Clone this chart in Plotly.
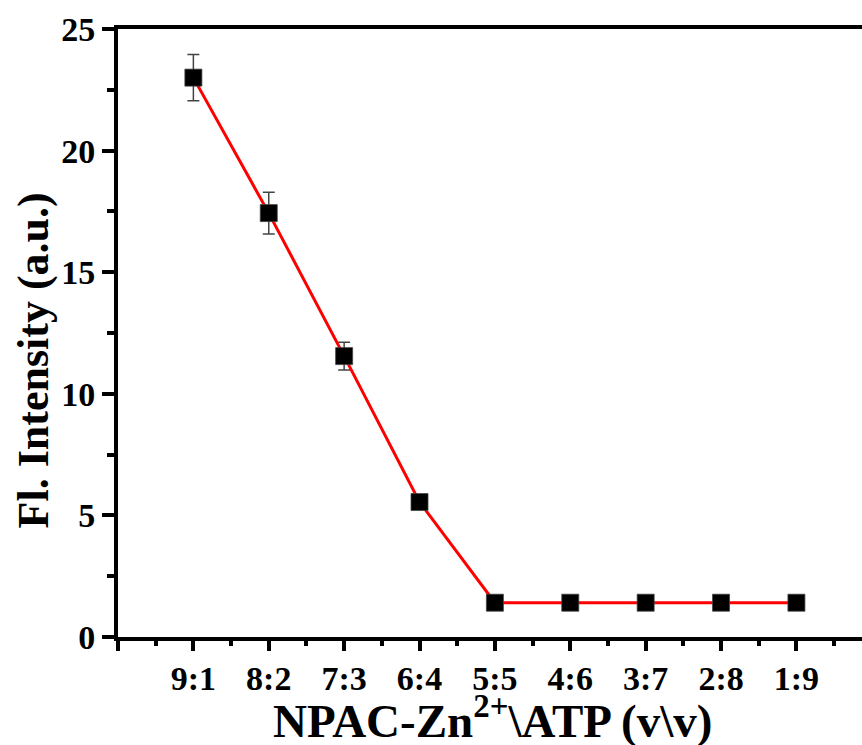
import plotly.graph_objects as go

categories = ["9:1", "8:2", "7:3", "6:4", "5:5", "4:6", "3:7", "2:8", "1:9"]
positions = [1, 2, 3, 4, 5, 6, 7, 8, 9]
intensity = [23.0, 17.43, 11.55, 5.55, 1.41, 1.41, 1.41, 1.41, 1.41]
errors = [0.95, 0.86, 0.57, 0.1, 0.0, 0.0, 0.0, 0.0, 0.0]

FONT = "Liberation Serif"
X_TITLE = "NPAC-Zn<sup>2+</sup>\\ATP (v\\v)"
Y_TITLE = "Fl. Intensity (a.u.)"
X_RANGE = [0, 9.87]
X_MAJOR = [0] + positions + [10]
X_MINOR = [0.5 + i for i in range(10)]

fig = go.Figure()
fig.add_trace(go.Scatter(
    x=positions, y=intensity,
    mode="lines+markers",
    line=dict(color="#ff0000", width=3),
    marker=dict(symbol="square", size=17, color="black",
                line=dict(color="#444", width=0.8)),
    error_y=dict(type="data", array=errors, visible=True,
                 color="#444", thickness=1.5, width=6),
    showlegend=False,
    cliponaxis=False,
))
# invisible helper trace so the overlaying tick axis is drawn
fig.add_trace(go.Scatter(
    x=positions, y=intensity, xaxis="x2", mode="markers",
    marker=dict(opacity=0), hoverinfo="skip", showlegend=False,
))

fig.update_layout(
    width=862, height=745,
    margin=dict(l=118, r=0, t=29, b=108),
    paper_bgcolor="white", plot_bgcolor="white",
    font=dict(family=FONT, color="black", size=34),
    xaxis=dict(
        range=X_RANGE,
        tickmode="array", tickvals=X_MAJOR,
        ticktext=[""] + categories + [""],
        ticks="", ticklabelstandoff=8,
        showline=True, linewidth=4, linecolor="black", mirror=True,
        showgrid=False, zeroline=False,
        tickfont=dict(family=FONT, size=34, color="black", weight="bold"),
    ),
    xaxis2=dict(
        overlaying="x", anchor="y", side="bottom",
        range=X_RANGE,
        tickmode="array", tickvals=X_MAJOR,
        ticks="outside", ticklen=13, tickwidth=4, tickcolor="black",
        minor=dict(tickmode="array", tickvals=X_MINOR,
                   ticks="outside", ticklen=8, tickwidth=4, tickcolor="black"),
        showticklabels=False, showline=False, showgrid=False, zeroline=False,
    ),
    yaxis=dict(
        range=[0, 25],
        tickmode="array", tickvals=[0, 5, 10, 15, 20, 25],
        ticks="outside", ticklen=12, tickwidth=4, tickcolor="black",
        minor=dict(tickmode="array", tickvals=[2.5, 7.5, 12.5, 17.5, 22.5],
                   ticks="outside", ticklen=7, tickwidth=4, tickcolor="black"),
        showline=True, linewidth=4, linecolor="black", mirror=False,
        showgrid=False, zeroline=False,
        tickfont=dict(family=FONT, size=34, color="black", weight="bold"),
    ),
    annotations=[
        dict(text=X_TITLE, xref="paper", yref="paper", x=0.504, y=-0.133,
             xanchor="center", yanchor="middle", showarrow=False,
             font=dict(family=FONT, size=47, color="black", weight="bold")),
        dict(text=Y_TITLE, xref="paper", yref="paper", x=-0.1142, y=0.455,
             xanchor="center", yanchor="middle", showarrow=False, textangle=-90,
             font=dict(family=FONT, size=44, color="black", weight="bold")),
    ],
)

fig.write_html("out.html")
